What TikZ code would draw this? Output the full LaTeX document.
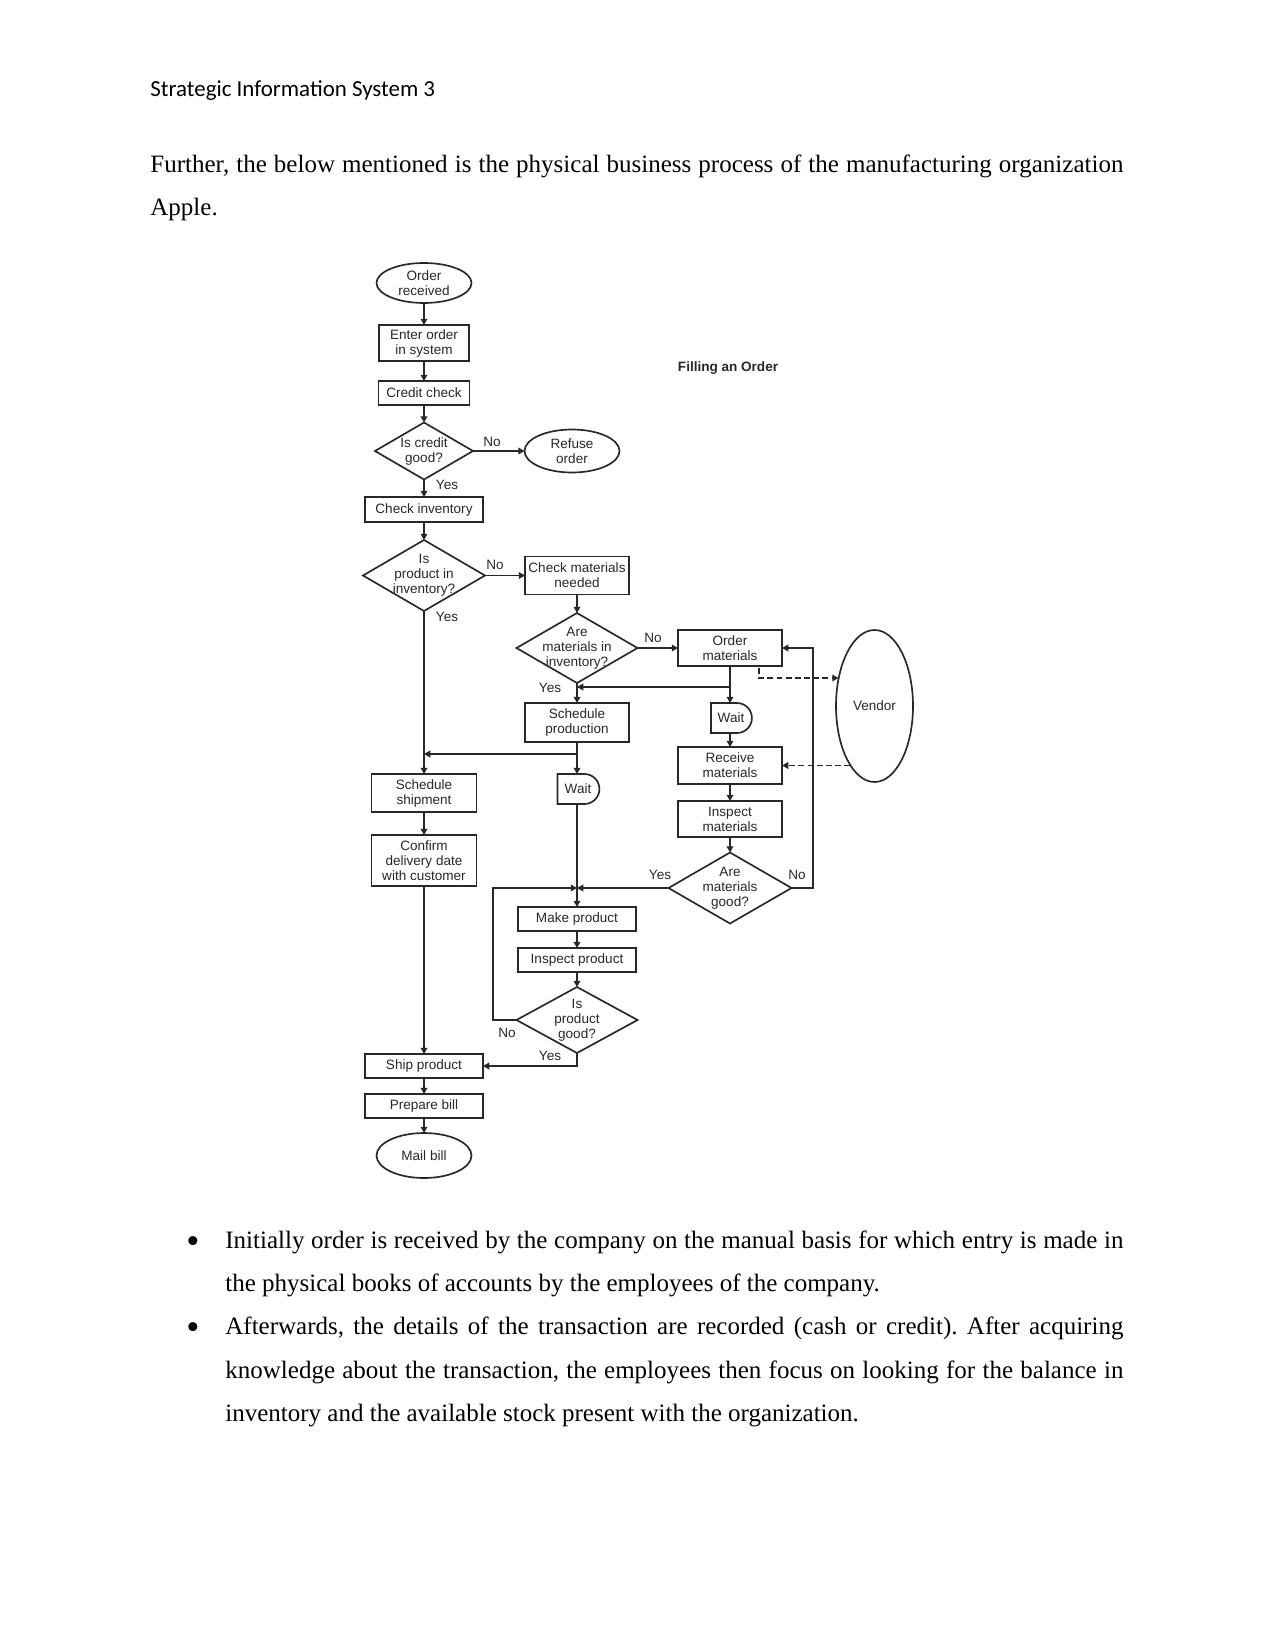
\documentclass[tikz,border=0pt]{standalone}
\usepackage{fontspec}
\setmainfont{Liberation Serif}
\newfontfamily\chartfont{Liberation Sans}
\newfontfamily\hdrfont{Carlito}
\usetikzlibrary{shapes.geometric,shapes.misc,arrows.meta}
\newlength\pxu
\setlength\pxu{0.48pt}
\definecolor{chart}{RGB}{40,40,40}
\newcommand\chartsz{\chartfont\fontsize{6.5}{7.2}\selectfont}
\begin{document}
\frenchspacing
\begin{tikzpicture}[x=0.48pt,y=-0.48pt,
  sz/.style 2 args={minimum width=#1\pxu,minimum height=#2\pxu},
  shp/.style={draw=chart,line width=0.8pt,inner sep=0pt,outer sep=0pt,font=\chartsz,text=chart,align=center},
  box/.style={shp,rectangle},
  dia/.style={shp,diamond},
  ell/.style={shp,ellipse},
  waitbox/.style={shp,rounded rectangle,rounded rectangle left arc=none},
  lbl/.style={font=\chartsz,text=chart,align=center,inner sep=0pt},
  arr/.style={draw=chart,line width=0.8pt,-{Triangle[length=3pt,width=3.2pt]}},
  ln/.style={draw=chart,line width=0.8pt},
  dsh/.style={draw=chart,line width=0.8pt,dash pattern=on 2.8pt off 1.6pt,-{Triangle[length=3pt,width=3.2pt]}},
  body/.style={anchor=base west,inner sep=0pt,font=\fontsize{12}{14}\selectfont},
  bul/.style={anchor=base,inner sep=0pt,font=\fontsize{18}{18}\selectfont},
]
\useasboundingbox (0,0) rectangle (1275,1651);
\fill[white] (0,0) rectangle (1275,1651);

% ---------- page text ----------
\node[anchor=base west,inner sep=0pt,font=\hdrfont\fontsize{11}{13}\selectfont] (hdr) at (150,97) {Strategic Information System 3};
\node[body] (p1) at (150,172.3) {\makebox[973\pxu][s]{Further, the below mentioned is the physical business process of the manufacturing organization}};
\node[body] (p2) at (150,215.5) {Apple.};

\node[bul] (b1) at (193,1253) {•};
\node[body] (b1l1) at (225,1248.3) {\makebox[898\pxu][s]{Initially order is received by the company on the manual basis for which entry is made in}};
\node[body] (b1l2) at (225,1291.5) {the physical books of accounts by the employees of the company.};
\node[bul] (b2) at (193,1339.4) {•};
\node[body] (b2l1) at (225,1334.7) {\makebox[898\pxu][s]{Afterwards, the details of the transaction are recorded (cash or credit). After acquiring}};
\node[body] (b2l2) at (225,1378) {\makebox[898\pxu][s]{knowledge about the transaction, the employees then focus on looking for the balance in}};
\node[body] (b2l3) at (225,1421.2) {inventory and the available stock present with the organization.};

% ---------- flowchart nodes ----------
\node[ell,sz={95}{40},label={[lbl]center:Order\\received}] (ordrec) at (424,283) {};
\node[box,sz={90}{36}] (enter) at (424,343) {Enter order\\in system};
\node[box,sz={91}{24}] (credit) at (424,393) {Credit check};
\node[dia,sz={98}{57},label={[lbl]center:Is credit\\good?}] (dcredit) at (424,451) {};
\node[ell,sz={95}{43},label={[lbl]center:Refuse\\order}] (refuse) at (572,451) {};
\node[box,sz={118}{25}] (checkinv) at (424,509.5) {Check inventory};
\node[dia,sz={122}{71},label={[lbl]center:Is\\product in\\inventory?}] (dprod) at (424,575.5) {};
\node[box,sz={104}{38}] (checkmat) at (577,575.5) {Check materials\\needed};
\node[dia,sz={121}{70},label={[lbl]center:Are\\materials in\\inventory?}] (dmatinv) at (577,648) {};
\node[box,sz={104}{36}] (ordmat) at (730,648) {Order\\materials};
\node[box,sz={104}{39}] (schedprod) at (577,722.5) {Schedule\\production};
\node[waitbox,sz={41}{30}] (wait1) at (731,718) {Wait};
\node[box,sz={104}{37}] (recmat) at (730,765.5) {Receive\\materials};
\node[ell,sz={77}{152},label={[lbl]center:Vendor}] (vendor) at (874.5,706) {};
\node[box,sz={104}{36}] (inspmat) at (730,819) {Inspect\\materials};
\node[dia,sz={123}{71},label={[lbl]center:Are\\materials\\good?}] (dmatgood) at (730,888) {};
\node[box,sz={105}{38}] (schedship) at (424,793) {Schedule\\shipment};
\node[box,sz={105}{51}] (confirm) at (424,860.5) {Confirm\\delivery date\\with customer};
\node[waitbox,sz={42}{30}] (wait2) at (578,789) {Wait};
\node[box,sz={118}{24}] (make) at (577,919) {Make product};
\node[box,sz={118}{24}] (insprod) at (577,960) {Inspect product};
\node[dia,sz={121}{66},label={[lbl]center:Is\\product\\good?}] (dprodgood) at (577,1020) {};
\node[box,sz={118}{24}] (ship) at (424,1066) {Ship product};
\node[box,sz={118}{24}] (prepbill) at (424,1106) {Prepare bill};
\node[ell,sz={95}{45},label={[lbl]center:Mail bill}] (mail) at (424,1155.5) {};

\node[lbl,font=\chartfont\bfseries\fontsize{6.5}{7.2}\selectfont] (title) at (728,368) {Filling an Order};

% ---------- connector labels ----------
\node[lbl] (n1) at (492,442) {No};
\node[lbl] (y1) at (447,485) {Yes};
\node[lbl] (n2) at (495,565) {No};
\node[lbl] (y2) at (447,617) {Yes};
\node[lbl] (n3) at (653,638) {No};
\node[lbl] (y3) at (550,688) {Yes};
\node[lbl] (y4) at (660,875) {Yes};
\node[lbl] (n4) at (797,875) {No};
\node[lbl] (n5) at (507,1033) {No};
\node[lbl] (y5) at (550,1056) {Yes};

% ---------- helper coordinates ----------
\coordinate (j1) at (730,687);
\coordinate (j2) at (577,754);
\coordinate (jn) at (577,888);
\coordinate (rloop) at (813,888);
\coordinate (lloop) at (493,888);
\coordinate (vt) at (759,668);
\coordinate (vin) at (838.5,678);
\coordinate (vout) at (850,765.5);

% ---------- connectors ----------
\draw[arr] (ordrec.south) -- (enter.north);
\draw[arr] (enter.south) -- (credit.north);
\draw[arr] (credit.south) -- (dcredit.north);
\draw[arr] (dcredit.east) -- (refuse.west);
\draw[arr] (dcredit.south) -- (checkinv.north);
\draw[arr] (checkinv.south) -- (dprod.north);
\draw[arr] (dprod.east) -- (checkmat.west);
\draw[arr] (checkmat.south) -- (dmatinv.north);
\draw[arr] (dmatinv.east) -- (ordmat.west);
\draw[arr] (dmatinv.south) -- (schedprod.north);
\draw[arr] (ordmat.south) -- (ordmat.south |- wait1.north);
\draw[arr] (j1) -- (j1 -| dmatinv.south);
\draw[arr] (ordmat.south |- wait1.south) -- (recmat.north);
\draw[arr] (recmat.south) -- (inspmat.north);
\draw[arr] (inspmat.south) -- (dmatgood.north);
\draw[arr] (dmatgood.east) -- (rloop) |- (ordmat.east);
\draw[arr] (dmatgood.west) -- (jn);
\draw[dsh] (vt) |- (vin);
\draw[dsh] (vout) -- (vout -| recmat.east);
\draw[arr] (schedprod.south) -- (schedprod.south |- wait2.north);
\draw[arr] (j2) -- (j2 -| dprod.south);
\draw[arr] (dprod.south) -- (schedship.north);
\draw[arr] (schedship.south) -- (confirm.north);
\draw[arr] (confirm.south) -- (ship.north);
\draw[ln] (schedprod.south |- wait2.south) -- (jn);
\draw[arr] (jn) -- (make.north);
\draw[arr] (make.south) -- (insprod.north);
\draw[arr] (insprod.south) -- (dprodgood.north);
\draw[arr] (dprodgood.west) -| (lloop) -- (jn);
\draw[arr] (dprodgood.south) |- (ship.east);
\draw[arr] (ship.south) -- (prepbill.north);
\draw[arr] (prepbill.south) -- (mail.north);
\end{tikzpicture}
\end{document}
